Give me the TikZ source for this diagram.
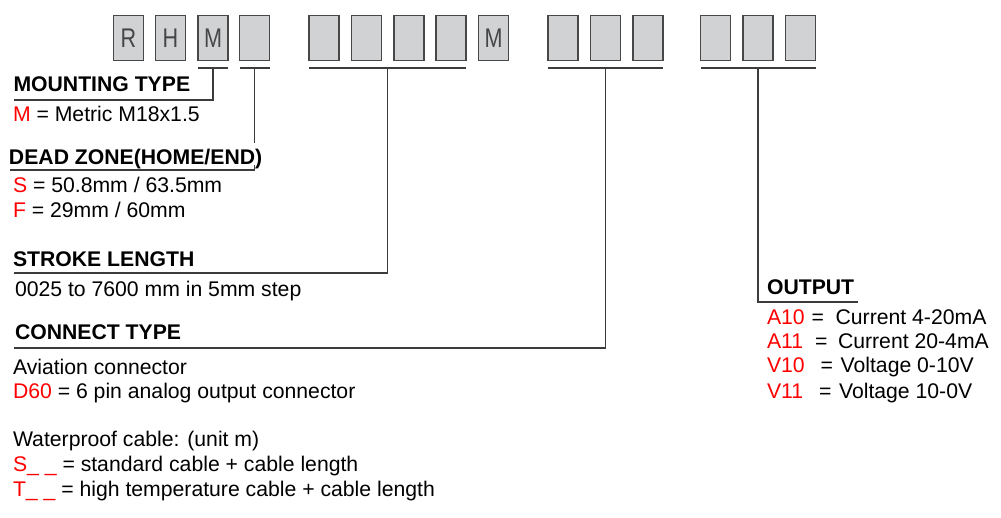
\documentclass[tikz,border=0pt]{standalone}
\usepackage{fontspec}
\setmainfont{Liberation Sans}
\usepackage{tikz}
\usetikzlibrary{positioning,calc}
\usepackage{xcolor}
\definecolor{cajagris}{RGB}{209,210,212}
\definecolor{bordegris}{RGB}{72,72,72}
\definecolor{letragris}{RGB}{70,70,70}
\definecolor{lineagris}{RGB}{60,60,60}
\newcommand{\letracaja}[1]{\scalebox{0.8}[1]{#1}}

\begin{document}
\begin{tikzpicture}[x=1pt, y=-1pt,
  every node/.style={inner sep=0pt, outer sep=0pt, anchor=base west,
    font=\fontsize{21.2}{25}\selectfont},
  caja/.style={draw=bordegris, line width=1.4pt, fill=cajagris, anchor=center,
    minimum width=30pt, minimum height=44.6pt, text=letragris,
    font=\fontsize{27}{28}\selectfont},
  titulo/.style={font=\fontsize{21.2}{25}\selectfont\bfseries, fill=white,
    text depth=0pt},
  linea/.style={draw=lineagris, line width=1.4pt},
  rojo/.style={text=red}
]
\useasboundingbox (0,0) rectangle (1001,518);

% -------- Casillas del codigo --------
\foreach \i/\x/\t in {1/128.5/R, 2/170.5/H, 3/213/M, 4/254.5/{},
  5/324/{}, 6/366.5/{}, 7/409/{}, 8/451/{}, 9/493.5/M,
  10/563/{}, 11/605.5/{}, 12/648/{},
  13/715.5/{}, 14/758/{}, 15/800.5/{}}
  \node[caja] (c\i) at (\x,38) {\letracaja{\t}};

% Subrayados de los grupos
\draw[linea] ([yshift=-7.7pt]c3.south west) -- ([yshift=-7.7pt]c3.south east);
\draw[linea] ([yshift=-7.7pt]c4.south west) -- ([yshift=-7.7pt]c4.south east);
\draw[linea] ([yshift=-7.7pt]c5.south west) -- ([yshift=-7.7pt]c8.south east);
\draw[linea] ([yshift=-7.7pt]c10.south west) -- ([yshift=-7.7pt]c12.south east);
\draw[linea] ([yshift=-7.7pt]c13.south west) -- ([yshift=-7.7pt]c15.south east);

% Puntos medios de los subrayados
\coordinate (m3) at ([yshift=-7.7pt]c3.south);
\coordinate (m4) at ([yshift=-7.7pt]c4.south);
\coordinate (m5) at ($([yshift=-7.7pt]c5.south west)!0.5!([yshift=-7.7pt]c8.south east)$);
\coordinate (m10) at ($([yshift=-7.7pt]c10.south west)!0.5!([yshift=-7.7pt]c12.south east)$);
\coordinate (m13) at ([yshift=-7.7pt]c14.south);

% Extremos libres
\coordinate (fmt) at (14,100);
\coordinate (fdz) at (10,170);
\coordinate (fsl) at (14,273);
\coordinate (fct) at (14,348);
\coordinate (fop) at (858,302);

% Conectores
\draw[linea] (m3) |- (fmt);
\draw[linea] (m4) |- (fdz);
\draw[linea] (m5) |- (fsl);
\draw[linea] (m10) |- (fct);
\draw[linea] (m13) |- (fop);

% -------- Textos de la izquierda --------
\node[titulo] (mt) at (13.5,92) {MOUNTING TYPE};
\node (mtm) at (13,122) {\textcolor{red}{M} = Metric M18x1.5};

\node[titulo, text height=22pt] (dz) at (9,165) {DEAD ZONE(HOME/END)};
\node (dzs) at (13,193) {\textcolor{red}{S} = 50.8mm / 63.5mm};
\node (dzf) at (13,218) {\textcolor{red}{F} = 29mm / 60mm};

\node[titulo] (sl) at (13,267) {STROKE LENGTH};
\node (sl1) at (15,297) {0025 to 7600 mm in 5mm step};

\node[titulo] (ct) at (15,340) {CONNECT TYPE};
\node (ct1) at (13,374) {Aviation connector};
\node (ct2) at (13,398) {\textcolor{red}{D60} = 6 pin analog output connector};

\node (wc) at (13,446) {Waterproof cable: (unit m)};
\node (wc1) at (13,471) {\textcolor{red}{S\_ \_} = standard cable + cable length};
\node (wc2) at (13,496) {\textcolor{red}{T\_ \_} = high temperature cable + cable length};

% -------- Salida --------
\node[titulo] (op) at (767,295) {OUTPUT};
\node (a10) at (767,325) {\textcolor{red}{A10}\hspace{7pt}=\hspace{11.5pt}Current 4-20mA};
\node (a11) at (767,349) {\textcolor{red}{A11}\hspace{12pt}=\hspace{10.5pt}Current 20-4mA};
\node (v10) at (767,373) {\textcolor{red}{V10}\hspace{16pt}=\hspace{7.5pt}Voltage 0-10V};
\node (v11) at (767,398) {\textcolor{red}{V11}\hspace{16pt}=\hspace{7.5pt}Voltage 10-0V};

\end{tikzpicture}
\end{document}
